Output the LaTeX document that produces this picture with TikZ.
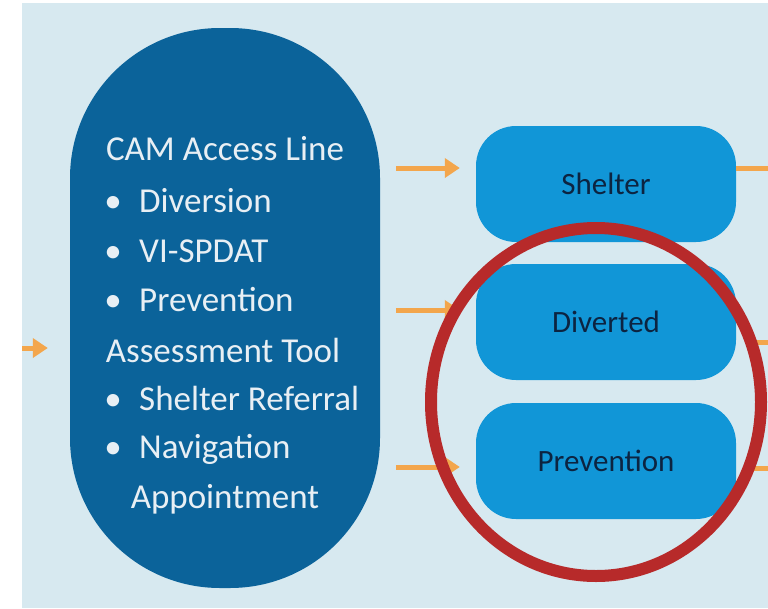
\documentclass[tikz,border=0pt]{standalone}
\usepackage{fontspec}
\setmainfont{Carlito}
\usepackage{tikz}
\usetikzlibrary{positioning,arrows.meta}

\definecolor{panel}{HTML}{D7E9F0}
\definecolor{camblue}{HTML}{0B639A}
\definecolor{camtext}{HTML}{E8EFF4}
\definecolor{stageblue}{HTML}{1196D7}
\definecolor{stagetext}{HTML}{0C2441}
\definecolor{flow}{HTML}{F3A64C}
\definecolor{ring}{HTML}{B72A2A}

\begin{document}
\begin{tikzpicture}
    [
      x=1pt, y=-1pt,
      Oval/.style={rectangle, rounded corners=150pt, fill=camblue, minimum width=310pt, minimum height=560pt, inner sep=0pt},
      Stage/.style={rectangle, rounded corners=40pt, fill=stageblue, minimum width=260pt, minimum height=116pt, text=stagetext, font=\fontsize{31}{33}\selectfont},
      Head/.style={anchor=base, text=camtext, inner sep=0pt, font=\fontsize{35}{38}\selectfont},
      Item/.style={Head, anchor=base west},
      Dot/.style={Head},
      Flow/.style={draw=flow, line width=5pt, -{Triangle[length=15pt,width=19pt]}},
      Tail/.style={draw=flow, line width=5pt},
      Ring/.style={draw=ring, line width=12pt},
    ]
    \useasboundingbox (0,0) rectangle (768,608);
    \fill[white] (0,0) rectangle (768,608);
    \fill[panel] (22,3) rectangle (768,608);

    % Nodes
    \node[Oval] (cam) at (225, 308) {};
    \node[Stage] (shelter) at (606, 184) {Shelter};
    \node[Stage] (diverted) at (606, 322) {Diverted};
    \node[Stage] (prevention) at (606, 461) {Prevention};

    \node[Head] (access) at (225, 160) {CAM Access Line};
    \node[Dot] (dot1) at (113, 212) {•};
    \node[Item] (diversion) at (139, 212) {Diversion};
    \node[Dot] (dot2) at (113, 262) {•};
    \node[Item] (vispdat) at (139, 262) {VI-SPDAT};
    \node[Dot] (dot3) at (113, 311) {•};
    \node[Item] (prevent) at (139, 311) {Prevention};
    \node[Head] (assess) at (223, 362) {Assessment Tool};
    \node[Dot] (dot4) at (113, 410) {•};
    \node[Item] (referral) at (139, 410) {Shelter Referral};
    \node[Dot] (dot5) at (113, 458) {•};
    \node[Item] (navigation) at (139, 458) {Navigation};
    \node[Head] (appoint) at (225, 508) {Appointment};

    \coordinate (inlet) at (22, 348);
    \coordinate (edge) at (768, 0);

    % Lines
    \path[Flow] (inlet) -- ([xshift=-22pt]cam.west |- inlet);
    \path[Flow] ([xshift=16pt, yshift=16pt]cam.east |- shelter.west) -- ([xshift=-16pt, yshift=16pt]shelter.west);
    \path[Flow] ([xshift=16pt, yshift=12pt]cam.east |- diverted.west) -- ([xshift=-16pt, yshift=12pt]diverted.west);
    \path[Flow] ([xshift=16pt, yshift=-6pt]cam.east |- prevention.west) -- ([xshift=-16pt, yshift=-6pt]prevention.west);

    \path[Tail] ([yshift=16pt]shelter.east) -- ([yshift=16pt]edge |- shelter.east);
    \path[Tail] ([xshift=16pt, yshift=-20pt]diverted.east) -- ([yshift=-20pt]edge |- diverted.east);
    \path[Tail] ([xshift=16pt, yshift=-7pt]prevention.east) -- ([yshift=-7pt]edge |- prevention.east);

    \draw[Ring] (596, 402) ellipse [x radius=165pt, y radius=174pt];
\end{tikzpicture}
\end{document}
